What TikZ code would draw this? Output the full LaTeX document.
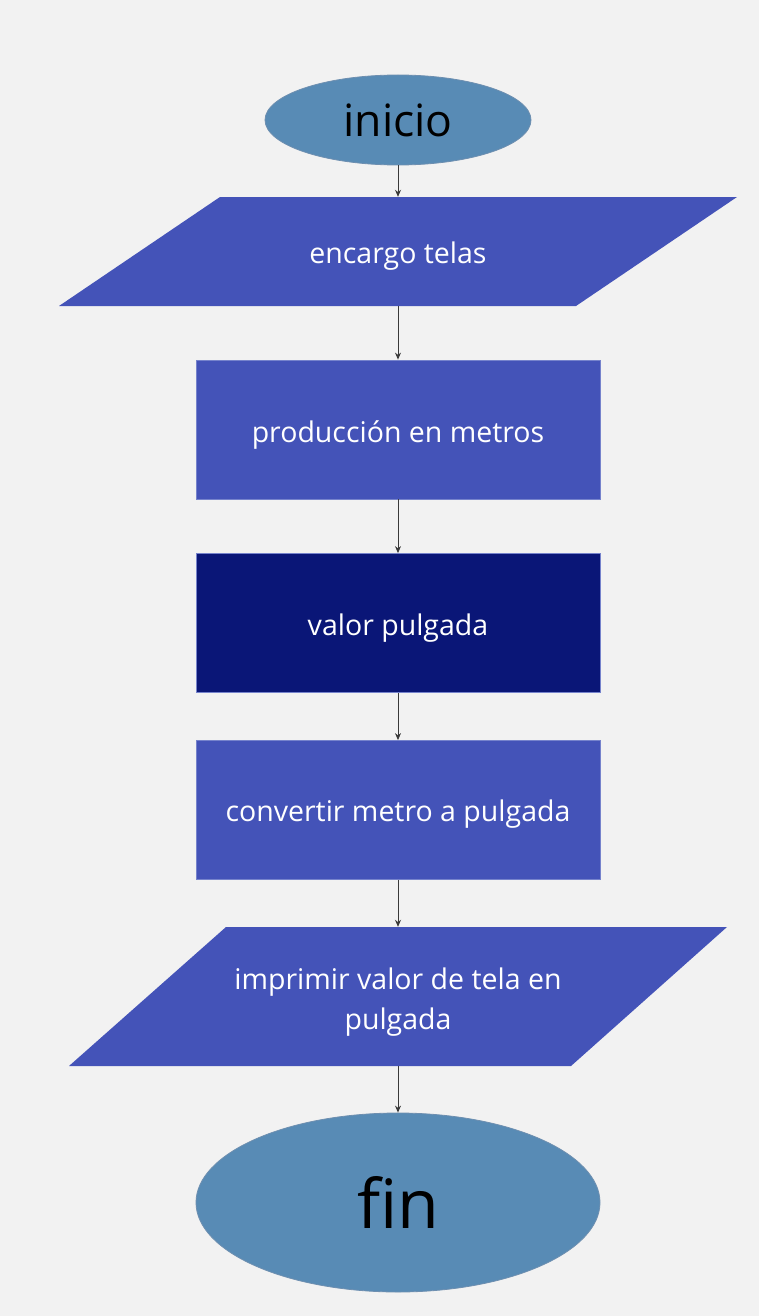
\documentclass[tikz,border=0pt]{standalone}
\usepackage{fontspec}
\setmainfont{Open Sans}
\usetikzlibrary{shapes.geometric,arrows.meta}
\definecolor{bg}{HTML}{F2F2F2}
\definecolor{ellfill}{HTML}{588BB5}
\definecolor{ellline}{HTML}{6E8FB0}
\definecolor{boxfill}{HTML}{4453B8}
\definecolor{boxline}{HTML}{7683CC}
\definecolor{navy}{HTML}{0A1677}
\definecolor{arrowc}{HTML}{3A3A3A}
\tikzset{
  x=1pt,y=1pt,
  term/.style={ellipse,fill=ellfill,draw=ellline,line width=0.8pt,inner sep=0pt,text=black},
  procbox/.style={rectangle,fill=boxfill,draw=boxline,line width=0.8pt,minimum width=404pt,minimum height=139pt,inner sep=0pt},
  boxtext/.style={inner sep=0pt,text=white,align=center,font=\fontsize{28.5}{40}\selectfont},
  iofill/.style={fill=boxfill},
  conn/.style={draw=arrowc,line width=0.9pt,-{Stealth[length=7pt,width=6pt]}}
}
\begin{document}
\begin{tikzpicture}
\useasboundingbox (0,0) rectangle (759,-1316);
\fill[bg] (0,0) rectangle (759,-1316);

% inicio
\node[term,minimum width=266pt,minimum height=90pt,font=\fontsize{44.5}{50}\selectfont] (ini) at (398,-120) {inicio};

% parallelogram 1
\path[iofill] (220,-197) -- (737,-197) -- (576,-306) -- (59,-306) -- cycle;
\node[minimum width=300pt,minimum height=109pt,inner sep=0pt] (p1) at (398,-251.5) {};
\node[boxtext,yshift=-5pt] (p1t) at (p1) {encargo telas};

% rectangles
\node[procbox] (r1) at (398,-429.5) {};
\node[boxtext,yshift=-6pt] (r1t) at (r1) {producción en metros};
\node[procbox,fill=navy] (r2) at (398,-623) {};
\node[boxtext,yshift=-5pt] (r2t) at (r2) {valor pulgada};
\node[procbox] (r3) at (398,-810) {};
\node[boxtext,yshift=-4pt] (r3t) at (r3) {convertir metro a pulgada};

% parallelogram 2
\path[iofill] (226,-927) -- (727,-927) -- (571,-1066) -- (69,-1066) -- cycle;
\node[minimum width=300pt,minimum height=139pt,inner sep=0pt] (p2) at (398,-996.5) {};
\node[boxtext,yshift=-6pt] (p2t) at (p2) {imprimir valor de tela en\\pulgada};

% fin
\node[term,minimum width=404pt,minimum height=179pt,font=\fontsize{68}{74}\selectfont] (fin) at (398,-1202.5) {fin};

% connectors
\draw[conn] (ini.south) -- (p1.north);
\draw[conn] (p1.south) -- (r1.north);
\draw[conn] (r1.south) -- (r2.north);
\draw[conn] (r2.south) -- (r3.north);
\draw[conn] (r3.south) -- (p2.north);
\draw[conn] (p2.south) -- (fin.north);
\end{tikzpicture}
\end{document}
